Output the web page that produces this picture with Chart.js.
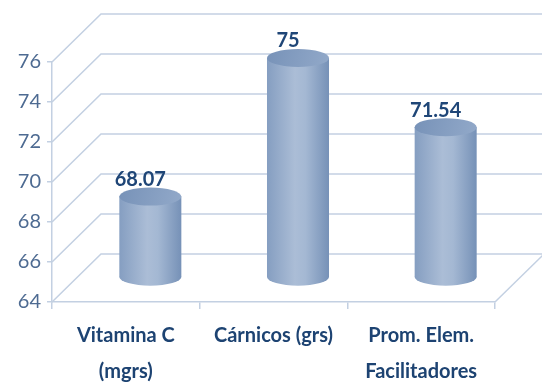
<!DOCTYPE html>
<html>
<head>
<meta charset="utf-8">
<script src="https://cdn.jsdelivr.net/npm/chart.js@4"></script>
<style>
  html, body { margin: 0; padding: 0; background: #fff; }
  #wrap { width: 542px; height: 384px; }
</style>
</head>
<body>
<div id="wrap"><canvas id="chart"></canvas></div>
<script>
// data
const categories = [["Vitamina C", "(mgrs)"], "Cárnicos (grs)", ["Prom. Elem.", "Facilitadores"]];
const values = [68.07, 75, 71.54];
const valueLabels = ["68.07", "75", "71.54"];
const yTicks = [64, 66, 68, 70, 72, 74, 76];

// depth offset for the fake 3d look
const DX = 49, DY = 48;
const gridColor = "#c3d0e2";

// back walls + floor lines, drawn from the y scale
const wallPlugin = {
  id: "walls",
  beforeDatasetsDraw(chart) {
    const { ctx, chartArea, scales } = chart;
    const y = scales.y;
    ctx.save();
    ctx.strokeStyle = gridColor;
    ctx.lineWidth = 1.5;
    yTicks.forEach((v) => {
      const py = y.getPixelForValue(v);
      ctx.beginPath();
      ctx.moveTo(chartArea.left, py);
      ctx.lineTo(chartArea.left + DX, py - DY);
      ctx.lineTo(chartArea.right + DX, py - DY);
      ctx.stroke();
    });
    // right edge of the floor
    const pb = y.getPixelForValue(yTicks[0]);
    ctx.beginPath();
    ctx.moveTo(chartArea.right, pb);
    ctx.lineTo(chartArea.right + DX, pb - DY);
    ctx.stroke();
    ctx.restore();
  },
};

function bodyGradient(ctx, bar) {
  const l = bar.x - bar.width / 2, r = bar.x + bar.width / 2;
  const g = ctx.createLinearGradient(l, 0, r, 0);
  g.addColorStop(0, "#859ec1");
  g.addColorStop(0.45, "#abbdd6");
  g.addColorStop(0.62, "#a4b8d3");
  g.addColorStop(1, "#7691b7");
  return g;
}

// shift bars half way into the depth and turn them into cylinders
const cylinderPlugin = {
  id: "cylinders",
  beforeDatasetDraw(chart, args) {
    const { ctx } = chart;
    ctx.save();
    ctx.translate(DX / 2, -DY / 2);
    args.meta.data.forEach((bar) => {
      bar.options.backgroundColor = bodyGradient(ctx, bar);
    });
  },
  afterDatasetDraw(chart, args) {
    const { ctx } = chart;
    args.meta.data.forEach((bar) => {
      // bottom round
      ctx.beginPath();
      ctx.ellipse(bar.x, bar.base - 0.5, bar.width / 2, 9, 0, 0, Math.PI);
      ctx.fillStyle = bodyGradient(ctx, bar);
      ctx.fill();
      // top cap
      const l = bar.x - bar.width / 2, r = bar.x + bar.width / 2;
      const g = ctx.createLinearGradient(l, bar.y - 9, r, bar.y + 9);
      g.addColorStop(0, "#7792b8");
      g.addColorStop(1, "#92a9c9");
      ctx.beginPath();
      ctx.ellipse(bar.x, bar.y, bar.width / 2, 9, 0, 0, Math.PI * 2);
      ctx.fillStyle = g;
      ctx.fill();
    });
    ctx.restore();
    // value labels above the cylinders
    ctx.save();
    ctx.font = "bold 20px Lato";
    ctx.fillStyle = "#1f4677";
    ctx.textAlign = "center";
    ctx.textBaseline = "middle";
    args.meta.data.forEach((bar, i) => {
      ctx.fillText(valueLabels[i], bar.x + DX / 2 - 10, bar.y - DY / 2 - 17);
    });
    ctx.restore();
  },
};

new Chart(document.getElementById("chart"), {
  type: "bar",
  data: {
    labels: categories,
    datasets: [
      {
        data: values,
        base: yTicks[0],
        // scriptable so every bar keeps its own options object
        backgroundColor: () => "#9fb4d0",
        borderWidth: 0,
        categoryPercentage: 1,
        barPercentage: 0.42,
        clip: false,
      },
    ],
  },
  options: {
    responsive: true,
    maintainAspectRatio: false,
    animation: false,
    devicePixelRatio: 1,
    layout: { padding: { top: 62, right: 47, left: 0, bottom: 0 } },
    scales: {
      y: {
        min: 64,
        max: 76,
        ticks: {
          stepSize: 2,
          color: "#4e6b92",
          padding: 6,
          font: { family: "Lato", size: 20 },
        },
        grid: { drawOnChartArea: false, color: gridColor, tickLength: 5, lineWidth: 1.5 },
        border: { color: gridColor, width: 1.5 },
        afterFit: (s) => { s.width = 52; },
      },
      x: {
        offset: true,
        ticks: {
          color: "#1d4372",
          padding: 9,
          maxRotation: 0,
          font: { family: "Lato", size: 20, weight: "bold", lineHeight: 1.8 },
        },
        grid: { drawOnChartArea: false, offset: true, color: gridColor, tickLength: 7, lineWidth: 1.5 },
        border: { color: gridColor, width: 1.5 },
        afterFit: (s) => { s.height = 82; },
      },
    },
    plugins: {
      legend: { display: false },
      tooltip: { enabled: false },
    },
  },
  plugins: [wallPlugin, cylinderPlugin],
});
</script>
</body>
</html>
